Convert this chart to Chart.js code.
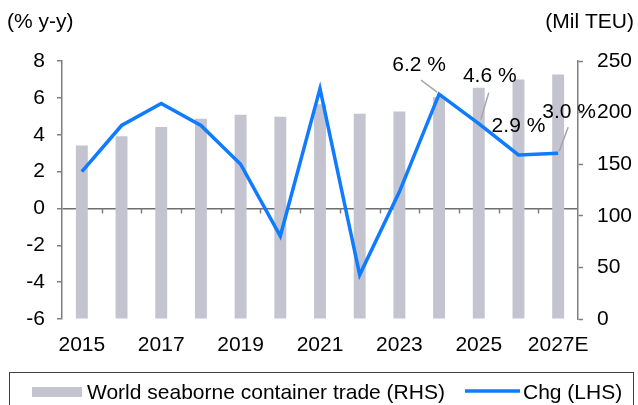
<!DOCTYPE html>
<html>
<head>
<meta charset="utf-8">
<script src="https://cdn.jsdelivr.net/npm/chart.js@4"></script>
<style>
  html, body { margin: 0; padding: 0; background: #fff; }
  #wrap { width: 638px; height: 405px; position: relative; overflow: hidden; }
</style>
</head>
<body>
<div id="wrap"><canvas id="c" width="638" height="405"></canvas></div>
<script>
// ---- data ----
const categories = ["2015","2016","2017","2018","2019","2020","2021","2022","2023","2024","2025","2026","2027E"];
const tradeMilTEU = [168, 177, 186, 194, 198, 196, 208, 199, 201, 215, 224, 232, 237];
const chgPct = [2.0, 4.5, 5.7, 4.5, 2.4, -1.5, 6.5, -3.6, 0.9, 6.2, 4.6, 2.9, 3.0];
const pointLabels = ["", "", "", "", "", "", "", "", "", "6.2 %", "4.6 %", "2.9 %", "3.0 %"];
const leftTicks = [-6, -4, -2, 0, 2, 4, 6, 8];
const rightTicks = [0, 50, 100, 150, 200, 250];
const seriesNames = ["World seaborne container trade (RHS)", "Chg (LHS)"];
const axisTitles = ["(% y-y)", "(Mil TEU)"];

// ---- styles ----
const FONT = "'Liberation Sans', Arial, sans-serif";
const BAR_COLOR = '#c3c4d0';
const LINE_COLOR = '#0f7bff';
const AXIS_COLOR = '#7f7f7f';
// label offsets relative to their data point: [dx, dy, leader from dx,dy, leader to dx,dy]
const labelOffsets = {
  9:  { dx: -20, dy: -29, lead: [-18, -14, -2, -2] },
  10: { dx: 11, dy: -47, lead: [10, -31, 2, -4] },
  11: { dx: 0, dy: -29, lead: null },
  12: { dx: 11, dy: -41, lead: [10, -26, 1, -2] }
};

const extras = {
  id: 'extras',
  afterDatasetsDraw(chart) {
    const ctx = chart.ctx;
    const x = chart.scales.x, yL = chart.scales.yL;
    const n = categories.length;
    // zero-line tick marks at category boundaries
    const y0 = yL.getPixelForValue(0);
    ctx.save();
    ctx.strokeStyle = AXIS_COLOR;
    ctx.lineWidth = 1.5;
    ctx.beginPath();
    for (let k = 1; k < n; k++) {
      const px = Math.round(x.left + k * (x.width / n)) + 0.5;
      ctx.moveTo(px, y0);
      ctx.lineTo(px, y0 + 5);
    }
    ctx.stroke();
    ctx.restore();
  },
  afterDraw(chart) {
    const ctx = chart.ctx;
    const ca = chart.chartArea;
    const meta = chart.getDatasetMeta(1);
    ctx.save();
    // point labels
    ctx.font = "21px " + FONT;
    ctx.fillStyle = '#000';
    ctx.textAlign = 'center';
    ctx.textBaseline = 'middle';
    pointLabels.forEach((t, i) => {
      if (!t) return;
      const p = meta.data[i];
      const o = labelOffsets[i];
      if (o.lead) {
        ctx.strokeStyle = '#a6a6a6';
        ctx.lineWidth = 1.5;
        ctx.beginPath();
        ctx.moveTo(p.x + o.lead[0], p.y + o.lead[1]);
        ctx.lineTo(p.x + o.lead[2], p.y + o.lead[3]);
        ctx.stroke();
      }
      ctx.fillText(t, p.x + o.dx, p.y + o.dy);
    });
    // axis titles
    ctx.textAlign = 'left';
    ctx.fillText(axisTitles[0], 7, 22);
    ctx.textAlign = 'right';
    ctx.fillText(axisTitles[1], 634, 22);
    // legend box
    ctx.strokeStyle = '#404040';
    ctx.lineWidth = 1;
    ctx.strokeRect(9.5, 372.5, 624, 40);
    ctx.fillStyle = BAR_COLOR;
    ctx.fillRect(32, 387, 50, 10);
    ctx.fillStyle = '#000';
    ctx.textAlign = 'left';
    ctx.fillText(seriesNames[0], 87, 393);
    ctx.strokeStyle = LINE_COLOR;
    ctx.lineWidth = 3.5;
    ctx.beginPath();
    ctx.moveTo(465, 391);
    ctx.lineTo(520, 391);
    ctx.stroke();
    ctx.fillText(seriesNames[1], 523, 393);
    ctx.restore();
  }
};

new Chart(document.getElementById('c'), {
  data: {
    labels: categories,
    datasets: [
      {
        type: 'bar', label: seriesNames[0], data: tradeMilTEU, yAxisID: 'yR',
        backgroundColor: BAR_COLOR, borderWidth: 0,
        categoryPercentage: 1.0, barPercentage: 0.3, order: 2
      },
      {
        type: 'line', label: seriesNames[1], data: chgPct, yAxisID: 'yL',
        borderColor: LINE_COLOR, borderWidth: 3.5, pointRadius: 0,
        tension: 0, fill: false, order: 1, borderJoinStyle: 'miter'
      }
    ]
  },
  options: {
    responsive: false,
    animation: false,
    devicePixelRatio: 1,
    layout: { padding: { top: 61, left: 0, right: 0, bottom: 0 } },
    plugins: { legend: { display: false }, tooltip: { enabled: false }, title: { display: false } },
    scales: {
      x: {
        type: 'category', offset: true,
        grid: { display: false, drawTicks: false },
        border: { display: false },
        ticks: {
          autoSkip: false, maxRotation: 0, padding: 14, color: '#000',
          font: { family: FONT, size: 21 },
          callback: function (v, i) { return i % 2 === 0 ? categories[i] : ''; }
        },
        afterFit: s => { s.height = 86; }
      },
      yL: {
        type: 'linear', position: 'left', min: -6, max: 8,
        afterBuildTicks: s => { s.ticks = leftTicks.map(v => ({ value: v })); },
        grid: {
          drawOnChartArea: true, tickLength: 5, tickWidth: 1.5, tickColor: AXIS_COLOR,
          lineWidth: 1.5,
          color: c => (c.tick && c.tick.value === 0) ? '#6e6e6e' : 'rgba(0,0,0,0)'
        },
        border: { display: true, color: AXIS_COLOR, width: 1.5 },
        ticks: { color: '#000', padding: 12, font: { family: FONT, size: 21 } },
        afterFit: s => { s.width = 62; }
      },
      yR: {
        type: 'linear', position: 'right', min: 0, max: 250,
        afterBuildTicks: s => { s.ticks = rightTicks.map(v => ({ value: v })); },
        grid: { drawOnChartArea: false, tickLength: 5, tickWidth: 1.5, color: AXIS_COLOR },
        border: { display: true, color: AXIS_COLOR, width: 1.5 },
        ticks: { color: '#000', padding: 14, font: { family: FONT, size: 21 } },
        afterFit: s => { s.width = 60; }
      }
    }
  },
  plugins: [extras]
});
</script>
</body>
</html>
